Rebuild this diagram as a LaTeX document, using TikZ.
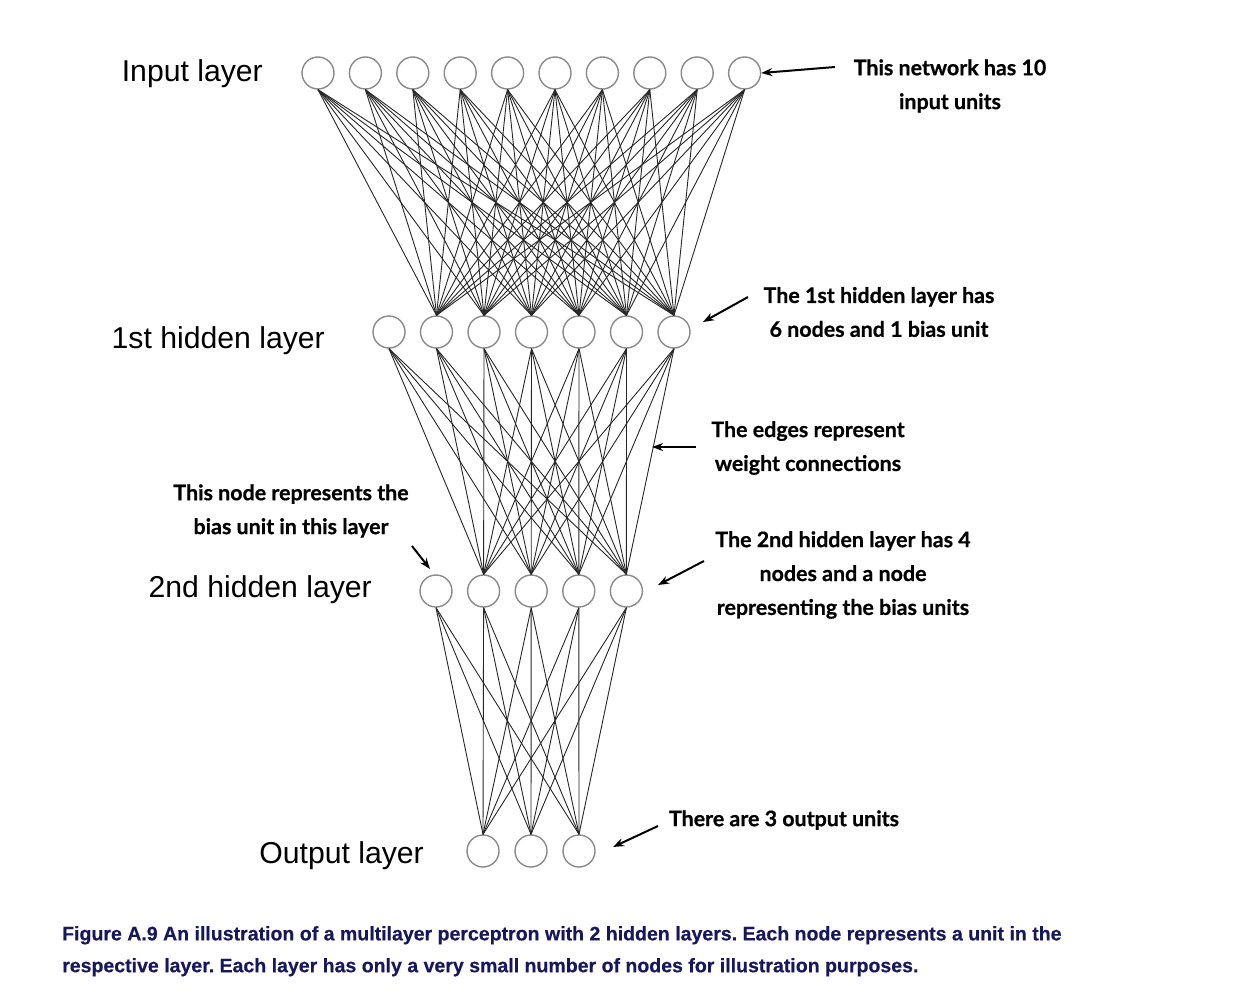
\documentclass[tikz,border=0pt]{standalone}
\usepackage{fontspec}
\setmainfont{Liberation Sans}
\newfontfamily\annfont[FakeBold=0.6]{Lato}
\newfontfamily\capfont[FakeBold=0.4]{Liberation Sans}
\usetikzlibrary{arrows.meta}
\definecolor{navy}{HTML}{16175C}
\definecolor{ringgray}{HTML}{8A8A8A}
\definecolor{edgegray}{HTML}{262626}
\tikzset{
  unit/.style={circle,draw=ringgray,line width=1.4bp,fill=white,minimum size=32bp,inner sep=0pt},
  wedge/.style={draw=edgegray,line width=0.9bp},
  layerlbl/.style={font=\fontsize{30.3}{34}\selectfont,anchor=east,inner sep=0pt},
  ann/.style={font=\annfont\bfseries\fontsize{21.5}{34}\selectfont,align=center,inner sep=0pt},
  pointer/.style={line width=2bp,-{Stealth[length=11bp,width=8bp]}},
}
\begin{document}
\frenchspacing
\begin{tikzpicture}[x=1bp,y=-1bp]
\useasboundingbox (0,0) rectangle (1236,994);
% input layer
\foreach \i in {1,...,10} {
  \node[unit] (in\i) at ({318+(\i-1)*47.4},73) {};
}
% 1st hidden layer
\foreach \i in {1,...,7} {
  \node[unit] (ha\i) at ({389+(\i-1)*47.5},332) {};
}
% 2nd hidden layer
\foreach \i in {1,...,5} {
  \node[unit] (hb\i) at ({436+(\i-1)*47.6},591) {};
}
% output layer
\foreach \i in {1,...,3} {
  \node[unit] (out\i) at ({483+(\i-1)*48},851) {};
}
% edges
\foreach \i in {1,...,10} {
  \foreach \j in {2,...,7} {
    \draw[wedge] (in\i.south) -- (ha\j.north);
  }
}
\foreach \i in {1,...,7} {
  \foreach \j in {2,...,5} {
    \draw[wedge] (ha\i.south) -- (hb\j.north);
  }
}
\foreach \i in {1,...,5} {
  \foreach \j in {1,...,3} {
    \draw[wedge] (hb\i.south) -- (out\j.north);
  }
}
% layer labels
\node[layerlbl] (lin) at (263,74) {Input layer};
\node[layerlbl] (lha) at (325,341) {1st hidden layer};
\node[layerlbl] (lhb) at (372,590) {2nd hidden layer};
\node[layerlbl] (lout) at (424,856) {Output layer};
% annotations
\node[ann] (a1) at (950,86) {This network has 10\\input units};
\coordinate (a1s) at (835,67);
\draw[pointer] (a1s) -- (in10.east);
\node[ann] (a2) at (879,312) {The 1st hidden layer has\\6 nodes and 1 bias unit};
\coordinate (a2s) at (748,297);
\coordinate (a2e) at (703,322);
\draw[pointer] (a2s) -- (a2e);
\node[ann] (a3) at (808,448) {The edges represent\\weight connections};
\coordinate (a3s) at (696,447);
\coordinate (a3e) at (652,447);
\draw[pointer] (a3s) -- (a3e);
\node[ann] (a4) at (291,511) {This node represents the\\bias unit in this layer};
\coordinate (a4s) at (412,546);
\coordinate (a4e) at (430,569);
\draw[pointer] (a4s) -- (a4e);
\node[ann] (a5) at (843,575) {The 2nd hidden layer has 4\\nodes and a node\\representing the bias units};
\coordinate (a5s) at (704,561);
\coordinate (a5e) at (658,585);
\draw[pointer] (a5s) -- (a5e);
\node[ann] (a6) at (784,820) {There are 3 output units};
\coordinate (a6s) at (658,826);
\coordinate (a6e) at (613,847);
\draw[pointer] (a6s) -- (a6e);
% caption
\node[font=\capfont\bfseries\fontsize{19.6}{32}\selectfont,text=navy,align=left,anchor=north west,inner sep=0pt] (cap) at (62,926) {Figure A.9 An illustration of a multilayer perceptron with 2 hidden layers. Each node represents a unit in the\\respective layer. Each layer has only a very small number of nodes for illustration purposes.};
\end{tikzpicture}
\end{document}
